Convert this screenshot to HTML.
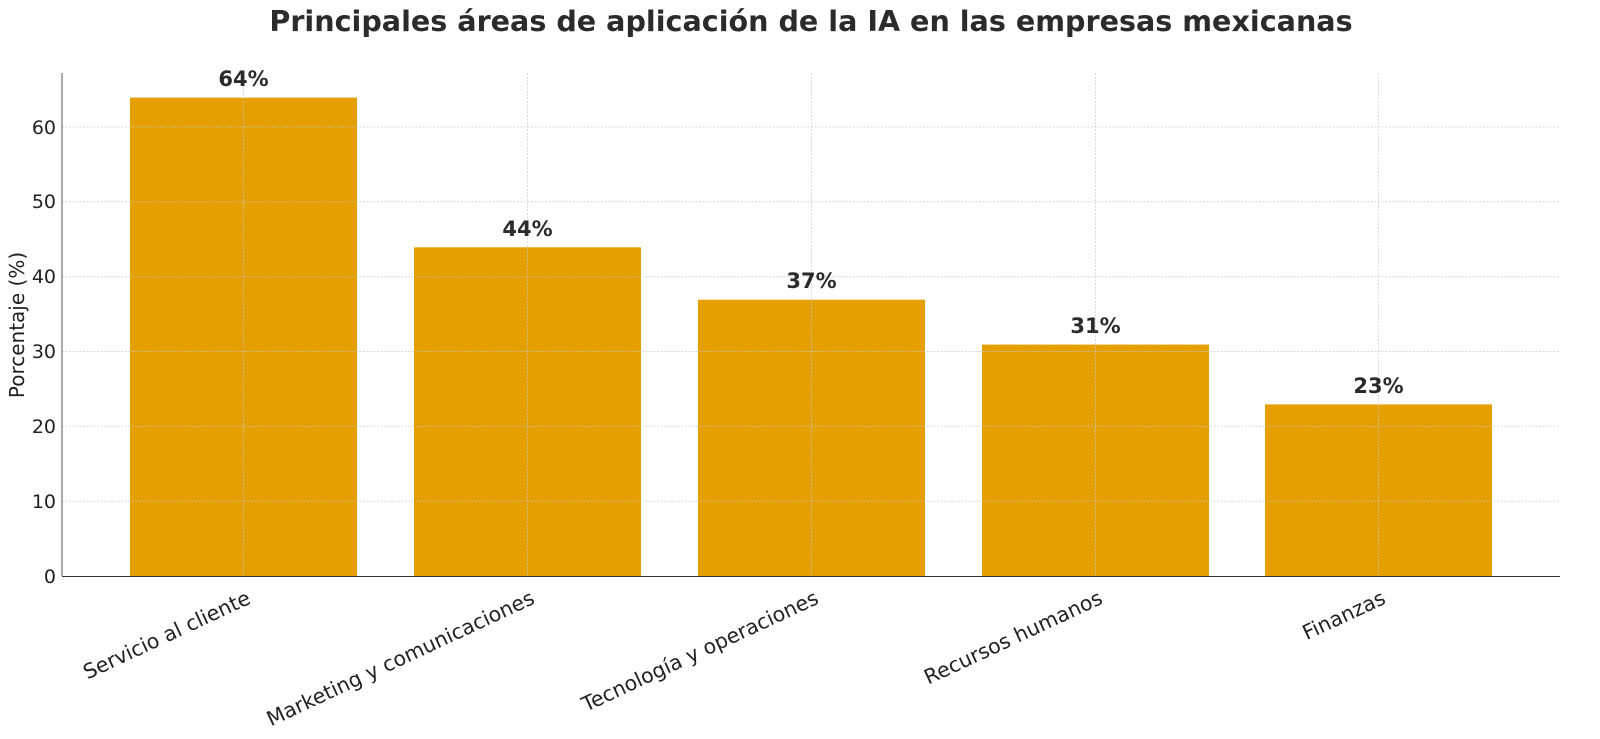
<!DOCTYPE html>
<html><head><meta charset="utf-8"><style>body{margin:0;background:#fff}svg{display:block}</style></head><body>
<svg width="1600" height="739" xmlns="http://www.w3.org/2000/svg" font-family="DejaVu Sans, Liberation Sans, sans-serif">
<rect width="1600" height="739" fill="#fff"/>
<text x="811" y="31" text-anchor="middle" font-size="28.6" font-weight="bold" fill="#2b2b2b">Principales áreas de aplicación de la IA en las empresas mexicanas</text>
<g fill="#e5a000">
<rect x="130" y="97.6" width="227" height="478.4"/>
<rect x="414" y="247.3" width="227" height="328.7"/>
<rect x="698" y="299.7" width="227" height="276.3"/>
<rect x="982" y="344.6" width="227" height="231.4"/>
<rect x="1265" y="404.4" width="227" height="171.6"/>
</g>
<g stroke="#c8c8c8" stroke-opacity="0.7" stroke-width="1" stroke-dasharray="2,1.5" fill="none">
<line x1="62" x2="1560" y1="501.2" y2="501.2"/>
<line x1="62" x2="1560" y1="426.3" y2="426.3"/>
<line x1="62" x2="1560" y1="351.5" y2="351.5"/>
<line x1="62" x2="1560" y1="276.7" y2="276.7"/>
<line x1="62" x2="1560" y1="201.8" y2="201.8"/>
<line x1="62" x2="1560" y1="127" y2="127"/>
<line x1="243.5" x2="243.5" y1="73" y2="576"/>
<line x1="527.5" x2="527.5" y1="73" y2="576"/>
<line x1="811.5" x2="811.5" y1="73" y2="576"/>
<line x1="1095.5" x2="1095.5" y1="73" y2="576"/>
<line x1="1378.5" x2="1378.5" y1="73" y2="576"/>
</g>
<line x1="62" x2="62" y1="73" y2="576" stroke="#555" stroke-width="1"/>
<line x1="62" x2="1560" y1="576.5" y2="576.5" stroke="#333" stroke-width="1"/>
<g font-size="19" fill="#222" text-anchor="end">
<text x="56" y="583">0</text>
<text x="56" y="508">10</text>
<text x="56" y="433">20</text>
<text x="56" y="358">30</text>
<text x="56" y="283">40</text>
<text x="56" y="208">50</text>
<text x="56" y="134">60</text>
</g>
<text transform="translate(24,325) rotate(-90)" text-anchor="middle" font-size="20" fill="#222">Porcentaje (%)</text>
<g font-size="21" font-weight="bold" fill="#2b2b2b" text-anchor="middle">
<text x="243.5" y="86">64%</text>
<text x="527.5" y="236">44%</text>
<text x="811.5" y="288">37%</text>
<text x="1095.5" y="333">31%</text>
<text x="1378.5" y="393">23%</text>
</g>
<g font-size="20.5" fill="#222" text-anchor="end">
<text transform="translate(245,588) rotate(-25)" dy="0.8em">Servicio al cliente</text>
<text transform="translate(529,588) rotate(-25)" dy="0.8em">Marketing y comunicaciones</text>
<text transform="translate(813,588) rotate(-25)" dy="0.8em">Tecnología y operaciones</text>
<text transform="translate(1097,588) rotate(-25)" dy="0.8em">Recursos humanos</text>
<text transform="translate(1380,588) rotate(-25)" dy="0.8em">Finanzas</text>
</g>
</svg>
</body></html>
